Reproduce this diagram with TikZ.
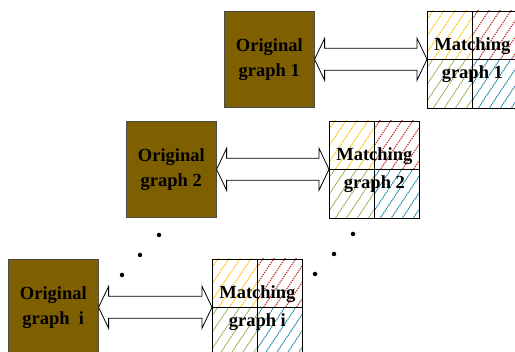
\documentclass[tikz,border=0pt]{standalone}
\usepackage{fontspec}
\setmainfont{Liberation Serif}
\usetikzlibrary{calc}

\definecolor{gbrown}{HTML}{7F6000}
\definecolor{hyellow}{HTML}{FFC000}
\definecolor{hred}{HTML}{C0392F}
\definecolor{hgreen}{HTML}{8DB04A}
\definecolor{hblue}{HTML}{1E86AA}

\tikzset{
  orig/.style={draw=black!70, fill=gbrown, line width=0.6pt, anchor=north west,
    minimum width=90pt, minimum height=96pt, align=center,
    font=\fontsize{18.5}{25}\selectfont\bfseries},
  grid/.style={draw=black, line width=0.7pt, anchor=north west,
    minimum width=90pt, minimum height=97pt, align=center,
    font=\fontsize{18.5}{28}\selectfont\bfseries},
  hatch/.style={line width=1pt, dash pattern=on 1.5pt off 0.9pt},
  dot/.style={fill=black, circle, inner sep=0pt, minimum size=4.5pt}
}

% matching table: #1 name, #2/#3 top left corner, #4 label
\newcommand{\matchgrid}[4]{%
  \foreach \cx/\cy/\col in {0/0/hyellow,45/0/hred,0/48.5/hgreen,45/48.5/hblue}{
    \begin{scope}
      \clip (#2+\cx,#3+\cy) rectangle ++(45,48.5);
      \foreach \k in {-40,-29,...,50}
        \draw[hatch,\col] (#2+\cx+\k,#3+\cy+52) -- ++(40,-60);
    \end{scope}
  }
  \node[grid] (#1) at (#2,#3) {#4};
  \draw[line width=0.7pt] (#1.north) -- (#1.south);
  \draw[line width=0.7pt] (#1.west) -- (#1.east);
}

% hollow two-way arrow between two nodes
\newcommand{\twoway}[2]{%
  \draw[line width=0.8pt, fill=white] let \p1=(#1.east), \p2=(#2.west) in
    (\x1,\y1) -- (\x1+10pt,\y1+21pt) -- (\x1+10pt,\y1+11pt)
    -- (\x2-10pt,\y1+11pt) -- (\x2-10pt,\y1+21pt) -- (\x2,\y1)
    -- (\x2-10pt,\y1-21pt) -- (\x2-10pt,\y1-11pt)
    -- (\x1+10pt,\y1-11pt) -- (\x1+10pt,\y1-21pt) -- cycle;
}

\begin{document}
\begin{tikzpicture}[x=1pt, y=-1pt]
  \useasboundingbox (0,0) rectangle (515,352);

  % original graphs
  \node[orig] (orig1) at (224,11) {Original\\graph 1};
  \node[orig] (orig2) at (126,121) {Original\\graph 2};
  \node[orig] (origi) at (8,259) {Original\\graph\ \ i};

  % matching graphs
  \matchgrid{match1}{427}{11}{Matching\\graph 1}
  \matchgrid{match2}{329}{121}{Matching\\graph 2}
  \matchgrid{matchi}{212}{259}{Matching\\graph i}

  \twoway{orig1}{match1}
  \twoway{orig2}{match2}
  \twoway{origi}{matchi}

  % ellipsis dots
  \foreach \i/\px/\py in {1/159/235,2/140/255,3/122/275,4/353/234,5/334/254,6/315/274}
    \node[dot] (dot\i) at (\px,\py) {};
\end{tikzpicture}
\end{document}
